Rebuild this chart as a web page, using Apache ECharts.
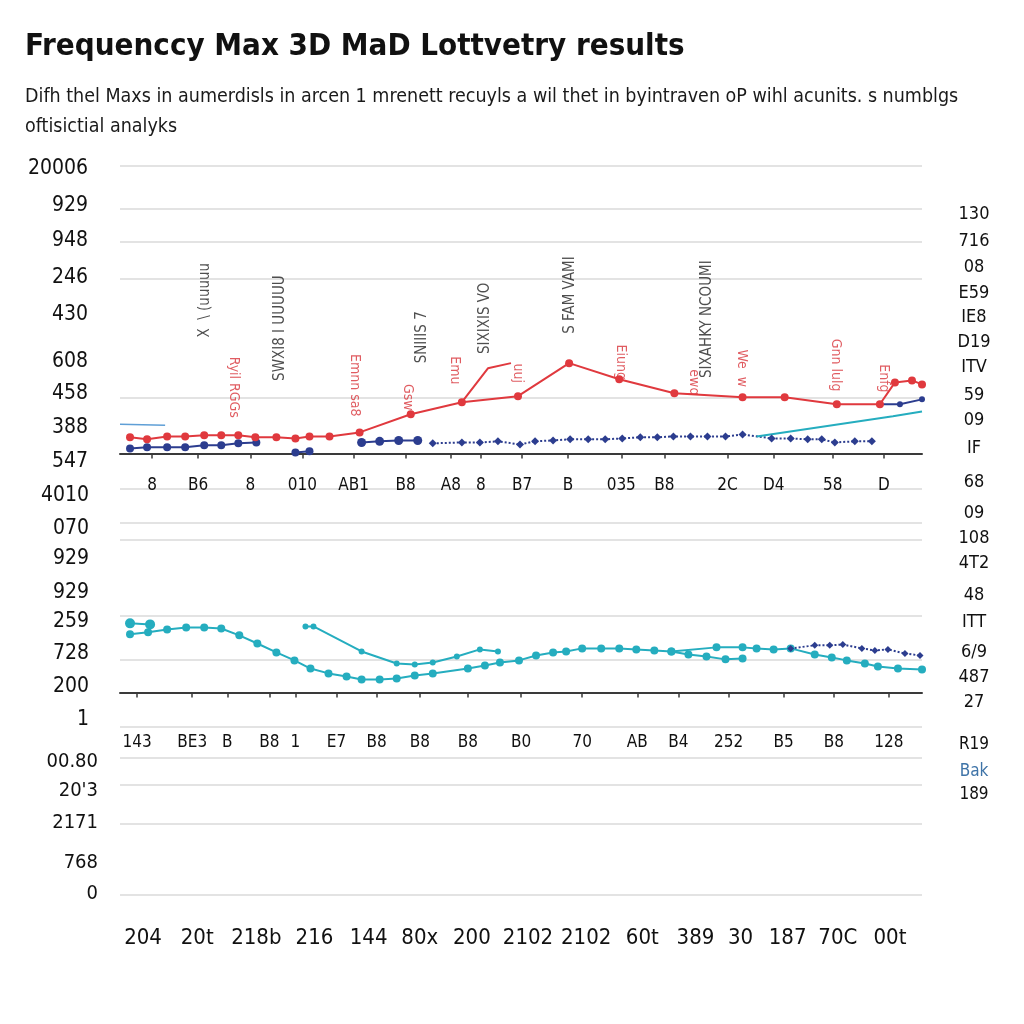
<!DOCTYPE html>
<html><head><meta charset="utf-8">
<script src="https://cdn.jsdelivr.net/npm/echarts@6/dist/echarts.min.js"></script>
<style>html,body{margin:0;padding:0;background:#fff}#c{width:1024px;height:1024px}</style>
</head><body><div id="c"></div>
<script>
const FONT = '"Liberation Sans Narrow","DejaVu Sans Condensed","Roboto Condensed",sans-serif';

const titleText = 'Frequenccy Max 3D MaD Lottvetry results';
const subText = 'Difh thel Maxs in aumerdisls in arcen 1 mrenett recuyls a wil thet in byintraven oP wihl acunits. s numblgs\noftisictial analyks';

// ---------- Panel 1 ----------
const p1XLabels = ['8','B6','8','010','AB1','B8','A8','8','B7','B','035','B8','2C','D4','58','D'];
const p1XPos = [3.2,7.8,13.0,18.2,23.3,28.5,33.0,36.0,40.1,44.7,50.0,54.3,60.6,65.2,71.1,76.2];
const p1LeftLabels = ['20006','929','948','246','430','608','458','388','547'];
const p1LeftPos = [99.0,86.4,73.9,61.3,48.4,32.1,20.9,9.1,-2.8];
const p1RightLabels = ['130','716','08','E59','IE8','D19','ITV','59','09','IF'];
const p1RightPos = [83.3,73.9,64.8,55.7,47.4,38.7,30.0,20.2,11.5,1.7];
const p1Grid = [100,85,73.5,60.6,19.2];

const redAx = [1.0,2.7,4.7,6.5,8.4,10.1,11.8,13.5,15.6,17.5,18.9,20.9,23.9,29.0,34.1,39.7,44.8,49.8,55.3,62.1,66.3,71.5,75.8,77.3,79.0,80.0];
const redAy = [5.6,4.9,5.9,5.9,6.3,6.3,6.3,5.6,5.6,5.2,5.9,5.9,7.3,13.6,17.8,19.9,31.4,25.8,20.9,19.5,19.5,17.1,17.1,24.7,25.4,24.0];
const redBx = [34.1,36.7,39.0];
const redBy = [17.8,29.6,31.4];
const navyA1x = [1.0,2.7,4.7,6.5,8.4,10.1,11.8,13.6];
const navyA1y = [1.7,2.1,2.1,2.1,2.8,2.8,3.5,3.8];
const navyA2x = [17.5,18.9];
const navyA2y = [0.3,0.7];
const navyA3x = [24.1,25.9,27.8,29.7];
const navyA3y = [3.8,4.2,4.5,4.5];
const navyBx = [31.2,34.1,35.9,37.7,39.9,41.4,43.2,44.9,46.7,48.4,50.1,51.9,53.6,55.2,56.9,58.6,60.4,62.1,65.0,66.9,68.6,70.0,71.3,73.3,75.0];
const navyBy = [3.5,3.8,3.8,4.2,3.1,4.2,4.5,4.9,4.9,4.9,5.2,5.6,5.6,5.9,5.9,5.9,5.9,6.6,5.2,5.2,4.9,4.9,3.8,4.2,4.2];
const navyCx = [75.8,77.8,80.0];
const navyCy = [17.1,17.1,18.8];
const cyan1x = [63.5,77.1,80.0];
const cyan1y = [5.9,12.9,14.6];
const lightBx = [0,4.5];
const lightBy = [10.1,9.8];

const annBlackText = ['X  \\ (uuuuu','SWXI8 I UUUUU','SNIIIS 7','SIXIXIS VO','S FAM VAMI','SIXAHKY NCOUMI'];
const annBlackX = [8.5,16.0,30.1,36.4,44.9,58.6];
const annBlackY = [53.3,43.6,40.4,47.0,55.1,46.7];
const annRedText = ['Ryil RGGs','Emnn sa8','Gsw','Emu','uuj','Eiung','ewq','We  w','Gnn lulg','Enfg'];
const annRedX = [11.3,23.4,28.7,33.4,39.7,49.9,57.2,62.0,71.4,76.2];
const annRedY = [23.0,23.7,19.5,28.9,27.9,31.7,24.7,29.6,30.7,26.1];

// ---------- Panel 2 ----------
const p2XLabels = ['143','BE3','B','B8','1','E7','B8','B8','B8','B0','70','AB','B4','252','B5','B8','128'];
const p2XPos = [1.7,7.2,10.7,14.9,17.5,21.6,25.6,29.9,34.7,40.0,46.1,51.6,55.7,60.7,66.2,71.2,76.7];
const p2LeftLabels = ['4010','070','929','929','259','728','200','1'];
const p2LeftPos = [97.0,80.8,66.0,49.3,35.0,19.2,3.0,-13.3];
const p2RightLabels = ['68','09','108','4T2','48','ITT','6/9','487','27'];
const p2RightPos = [103.4,88.2,75.9,63.5,47.8,34.5,19.7,7.4,-4.9];
const p2Grid = [100,83.3,74.9,37.9,16.3];

const cyanAx = [1.0,2.8,4.7,6.6,8.4,10.1,11.9,13.7,15.6,17.4,19.0,20.8,22.6,24.1,25.9,27.6,29.4,31.2,34.7,36.4,37.9,39.8,41.5,43.2,44.5,46.1,48.0,49.8,51.5,53.3,55.0,59.5,62.1,63.5,65.2,66.9,69.3,71.0,72.5,74.3,75.6,77.6,80.0];
const cyanAy = [28.6,29.6,31.0,32.0,32.0,31.5,28.1,24.1,19.7,15.8,11.8,9.4,7.9,6.4,6.4,6.9,8.4,9.4,11.8,13.3,14.8,15.8,18.2,19.7,20.2,21.7,21.7,21.7,21.2,20.7,20.2,22.2,22.2,21.7,21.2,21.7,18.7,17.2,15.8,14.3,12.8,11.8,11.3];
const cyanA2x = [55.0,56.7,58.5,60.4,62.1];
const cyanA2y = [20.2,18.7,17.7,16.3,16.7];
const cyanB1x = [1.0,3.0];
const cyanB1y = [34.0,33.5];
const cyanB2x = [18.5,19.3,24.1,27.6,29.4,31.2,33.6,35.9,37.7];
const cyanB2y = [32.5,32.5,20.2,14.3,13.8,14.8,17.7,21.2,20.2];
const navyP2x = [66.9,69.3,70.8,72.1,74.0,75.3,76.6,78.3,79.8];
const navyP2y = [21.7,23.2,23.2,23.6,21.7,20.7,21.2,19.2,18.2];

// ---------- Panel 3 ----------
const p3XLabels = ['204','20t','218b','216','144','80x','200','2102','2102','60t','389','30','187','70C','00t'];
const p3XPos = [2.3,7.7,13.6,19.4,24.8,29.9,35.1,40.7,46.5,52.1,57.4,61.9,66.6,71.6,76.8];
const p3LeftLabels = ['00.80',"20'3",'2171','768','0'];
const p3LeftPos = [79.2,61.9,42.9,19.0,0.6];
const p3RightLabels = ['R19','Bak','189'];
const p3RightPos = [89.3,73.2,59.5];
const p3Grid = [100,81.5,65.5,42.3,0];

// ---------- helpers ----------
const pts = (xs, ys) => xs.map((x, i) => [x, ys[i]]);
const lab = (pos, labels) => (v) => {
  const i = pos.findIndex(p => Math.abs(p - v) < 1e-6);
  return i >= 0 ? labels[i] : '';
};
const RED = '#e0393e', NAVY = '#2c3d8f', CYAN = '#25adbf', LIGHTB = '#5f9fd6';
const gridLineStyle = { color: '#dadada', width: 1.5 };

function xAxisFor(gi, pos, labels, opts) {
  return {
    type: 'value', gridIndex: gi, min: 0, max: 80,
    splitLine: { show: false },
    axisLine: { show: opts.line, onZero: true, lineStyle: { color: '#3a3a3a', width: 2 } },
    axisTick: { show: opts.line, customValues: pos, length: 5, lineStyle: { color: '#3a3a3a', width: 1.5 } },
    axisLabel: { customValues: pos, formatter: lab(pos, labels), margin: opts.margin,
      fontFamily: FONT, fontSize: opts.size, color: '#111' }
  };
}
function yAxisLeft(gi, min, max, pos, labels, gridVals, size, margin) {
  return {
    type: 'value', gridIndex: gi, min, max, position: 'left',
    axisLine: { show: false },
    axisTick: { show: false, customValues: gridVals },
    splitLine: { show: true, lineStyle: gridLineStyle },
    axisLabel: { customValues: pos, formatter: lab(pos, labels), margin,
      fontFamily: FONT, fontSize: size, color: '#111' }
  };
}
function yAxisRight(gi, min, max, pos, labels, size, colorFn) {
  return {
    type: 'value', gridIndex: gi, min, max, position: 'right',
    axisLine: { show: false }, axisTick: { show: false }, splitLine: { show: false },
    axisLabel: { customValues: pos, formatter: lab(pos, labels), margin: 52, align: 'center',
      fontFamily: FONT, fontSize: size, color: colorFn || '#111' }
  };
}
function line(xi, yi, data, color, extra) {
  return Object.assign({
    type: 'line', xAxisIndex: xi, yAxisIndex: yi, data, silent: true,
    symbol: 'circle', symbolSize: 8, showSymbol: true,
    itemStyle: { color }, lineStyle: { color, width: 2 }
  }, extra || {});
}
function ann(texts, xs, ys, color, rot, size) {
  return {
    type: 'scatter', xAxisIndex: 0, yAxisIndex: 0, data: pts(xs, ys), silent: true,
    symbolSize: 0.1, itemStyle: { color: 'rgba(0,0,0,0)' },
    label: { show: true, position: 'inside', rotate: rot, color, fontFamily: FONT, fontSize: size,
      formatter: p => texts[p.dataIndex] }
  };
}

const chart = echarts.init(document.getElementById('c'), null, { renderer: 'canvas' });
chart.setOption({
  animation: false,
  backgroundColor: '#fff',
  title: {
    text: titleText, subtext: subText, left: 20, top: 26, itemGap: 20,
    textStyle: { fontFamily: FONT, fontSize: 31, fontWeight: 'bold', color: '#111' },
    subtextStyle: { fontFamily: FONT, fontSize: 19.5, color: '#1a1a1a', lineHeight: 30 }
  },
  grid: [
    { left: 120, right: 102, top: 166, height: 296 },
    { left: 120, right: 102, top: 481, height: 240 },
    { left: 120, right: 102, top: 727, height: 168 }
  ],
  xAxis: [
    xAxisFor(0, p1XPos, p1XLabels, { line: true, margin: 15, size: 17 }),
    xAxisFor(1, p2XPos, p2XLabels, { line: true, margin: 13, size: 17 }),
    xAxisFor(2, p3XPos, p3XLabels, { line: false, margin: 32, size: 22 })
  ],
  yAxis: [
    yAxisLeft(0, -3, 100, p1LeftPos, p1LeftLabels, p1Grid, 21, 32),
    yAxisRight(0, -3, 100, p1RightPos, p1RightLabels, 18),
    yAxisLeft(1, -14, 104, p2LeftPos, p2LeftLabels, p2Grid, 21, 31),
    yAxisRight(1, -14, 104, p2RightPos, p2RightLabels, 18),
    yAxisLeft(2, 0, 100, p3LeftPos, p3LeftLabels, p3Grid, 20, 22),
    yAxisRight(2, 0, 100, p3RightPos, p3RightLabels, 17,
      (v) => Math.abs(v - p3RightPos[1]) < 1e-6 ? '#3f74a8' : '#111')
  ],
  series: [
    line(0, 0, pts(lightBx, lightBy), LIGHTB, { showSymbol: false, lineStyle: { color: LIGHTB, width: 1.5 } }),
    line(0, 0, pts(navyA1x, navyA1y), NAVY),
    line(0, 0, pts(navyA2x, navyA2y), NAVY),
    line(0, 0, pts(navyA3x, navyA3y), NAVY, { symbolSize: 9 }),
    line(0, 0, pts(navyBx, navyBy), NAVY, { symbol: 'diamond', symbolSize: 8, lineStyle: { color: NAVY, width: 2, type: 'dotted' } }),
    line(0, 0, pts(navyCx, navyCy), NAVY, { symbolSize: 6 }),
    line(0, 0, pts(cyan1x, cyan1y), CYAN, { showSymbol: false }),
    line(0, 0, pts(redAx, redAy), RED),
    line(0, 0, pts(redBx, redBy), RED, { showSymbol: false }),
    ann(annBlackText, annBlackX, annBlackY, '#222', 90, 15),
    ann(annRedText, annRedX, annRedY, '#d8333a', -90, 14),

    line(1, 2, pts(cyanAx, cyanAy), CYAN),
    line(1, 2, pts(cyanA2x, cyanA2y), CYAN),
    line(1, 2, pts(cyanB1x, cyanB1y), CYAN, { symbolSize: 10 }),
    line(1, 2, pts(cyanB2x, cyanB2y), CYAN, { symbolSize: 6 }),
    line(1, 2, pts(navyP2x, navyP2y), NAVY, { symbol: 'diamond', symbolSize: 7, lineStyle: { color: NAVY, width: 2, type: 'dotted' } })
  ]
});
</script>
</body></html>
